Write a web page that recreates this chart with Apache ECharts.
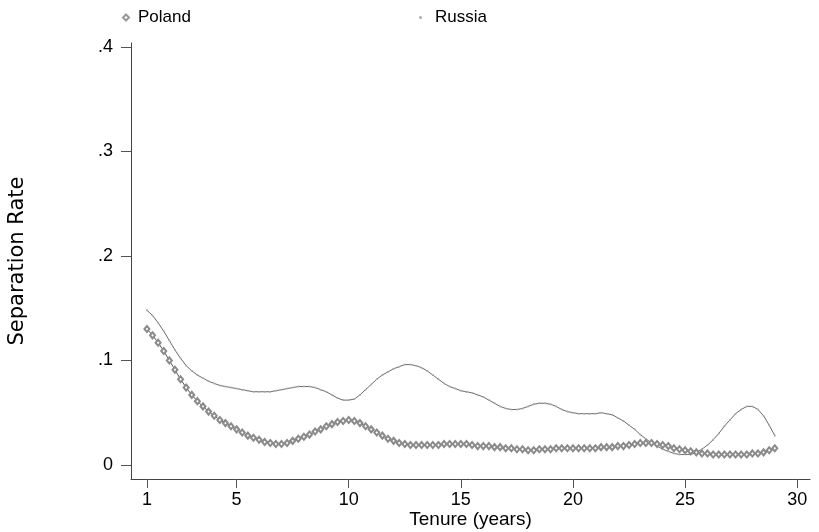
<!DOCTYPE html>
<html>
<head>
<meta charset="utf-8">
<script src="https://cdn.jsdelivr.net/npm/echarts@6/dist/echarts.min.js"></script>
<style>html,body{margin:0;padding:0;background:#fff}#c{width:819px;height:532px}</style>
</head>
<body>
<div id="c"></div>
<script>
// Tenure in years (0.25 steps from 1 to 29)
const tenure = [];
for (let i = 0; i <= 112; i++) tenure.push(1 + i * 0.25);

const poland = [
0.130,0.124,0.117,0.109,0.100,0.091,0.082,0.074,0.067,0.061,0.056,0.051,0.047,0.043,0.040,0.037,
0.034,0.031,0.028,0.026,0.024,0.022,0.021,0.020,0.020,0.021,0.023,0.025,0.027,0.029,0.032,0.034,
0.037,0.039,0.041,0.042,0.043,0.042,0.040,0.037,0.034,0.031,0.028,0.025,0.023,0.021,0.020,0.019,
0.019,0.019,0.019,0.019,0.019,0.020,0.020,0.020,0.020,0.020,0.019,0.018,0.018,0.018,0.017,0.017,
0.016,0.016,0.015,0.015,0.014,0.014,0.015,0.015,0.015,0.016,0.016,0.016,0.016,0.016,0.016,0.016,
0.016,0.017,0.017,0.017,0.018,0.018,0.019,0.020,0.021,0.021,0.021,0.020,0.019,0.018,0.016,0.015,
0.014,0.013,0.012,0.011,0.011,0.010,0.010,0.010,0.010,0.010,0.010,0.010,0.011,0.011,0.012,0.014,
0.016];

const russia = [
0.148,0.143,0.136,0.128,0.119,0.110,0.102,0.095,0.090,0.086,0.083,0.080,0.078,0.076,0.075,0.074,
0.073,0.072,0.071,0.070,0.070,0.070,0.070,0.071,0.072,0.073,0.074,0.075,0.075,0.075,0.074,0.072,
0.070,0.067,0.064,0.062,0.062,0.063,0.067,0.072,0.077,0.082,0.086,0.089,0.092,0.094,0.096,0.096,
0.095,0.093,0.090,0.086,0.082,0.078,0.075,0.073,0.071,0.070,0.069,0.067,0.065,0.062,0.059,0.056,
0.054,0.053,0.053,0.054,0.056,0.058,0.059,0.059,0.058,0.056,0.053,0.051,0.050,0.049,0.049,0.049,
0.049,0.050,0.049,0.048,0.045,0.042,0.038,0.034,0.029,0.025,0.021,0.018,0.015,0.013,0.011,0.010,
0.010,0.010,0.012,0.015,0.019,0.024,0.030,0.037,0.043,0.049,0.053,0.056,0.056,0.053,0.047,0.038,
0.028];

const xTicks = [1, 5, 10, 15, 20, 25, 30];
const yTicks = [0, 0.1, 0.2, 0.3, 0.4];

const chart = echarts.init(document.getElementById('c'), null, {renderer: 'canvas'});
const font = 'Liberation Sans, Arial, Helvetica, sans-serif';
const axisCol = '#444';

chart.setOption({
  animation: false,
  backgroundColor: '#fff',
  textStyle: {fontFamily: font, color: '#000'},
  legend: [
    {
      data: [{name: 'Poland', icon: 'emptyDiamond'}],
      left: 117, top: 4, itemWidth: 6, itemHeight: 6,
      textStyle: {fontFamily: font, fontSize: 17, color: '#000', padding: [0, 0, 0, 4]},
      itemStyle: {color: '#999', borderColor: '#999', borderWidth: 0.8}
    },
    {
      data: [{name: 'Russia', icon: 'circle'}],
      left: 414, top: 4, itemWidth: 3, itemHeight: 3,
      textStyle: {fontFamily: font, fontSize: 17, color: '#000', padding: [0, 0, 0, 8]},
      itemStyle: {color: '#aaa', borderWidth: 0}
    }
  ],
  grid: {left: 131, right: 9, top: 43, bottom: 53, containLabel: false, outerBoundsMode: 'none'},
  xAxis: {
    type: 'value', min: 0.29, max: 30.57,
    name: 'Tenure (years)', nameLocation: 'middle', nameGap: 31, nameMoveOverlap: false,
    nameTextStyle: {fontFamily: font, fontSize: 19, color: '#000'},
    axisLine: {onZero: false, lineStyle: {color: axisCol, width: 1}},
    axisTick: {customValues: xTicks, length: 9, lineStyle: {color: '#555'}},
    axisLabel: {customValues: xTicks, fontSize: 18, color: '#000', margin: 12, fontFamily: font},
    splitLine: {show: false}
  },
  yAxis: {
    type: 'value', min: -0.0135, max: 0.4038,
    name: 'Separation Rate', nameLocation: 'middle', nameGap: 103, nameRotate: 90, nameMoveOverlap: false,
    nameTextStyle: {fontFamily: 'DejaVu Sans, sans-serif', fontSize: 21, color: '#000'},
    axisLine: {onZero: false, lineStyle: {color: axisCol, width: 1}},
    axisTick: {customValues: yTicks, length: 10, lineStyle: {color: '#555'}},
    axisLabel: {
      customValues: yTicks, fontSize: 18, color: '#000', margin: 18, fontFamily: font,
      formatter: v => (Math.abs(v) < 1e-9 ? '0' : String(Math.round(v * 10) / 10).replace(/^0/, ''))
    },
    splitLine: {show: false}
  },
  series: [
    {
      name: 'Poland', type: 'line',
      data: tenure.map((t, i) => [t, poland[i]]),
      symbol: 'emptyDiamond', symbolSize: [5, 6], showAllSymbol: true,
      lineStyle: {color: '#555', width: 1},
      itemStyle: {color: '#8a8a8a', borderColor: '#8a8a8a', borderWidth: 0.7},
      z: 3
    },
    {
      name: 'Russia', type: 'line',
      data: tenure.map((t, i) => [t, russia[i]]),
      symbol: 'circle', symbolSize: 2, showAllSymbol: true,
      lineStyle: {color: '#444', width: 0.8},
      itemStyle: {color: '#aaa', borderWidth: 0},
      z: 2
    }
  ]
});
</script>
</body>
</html>
